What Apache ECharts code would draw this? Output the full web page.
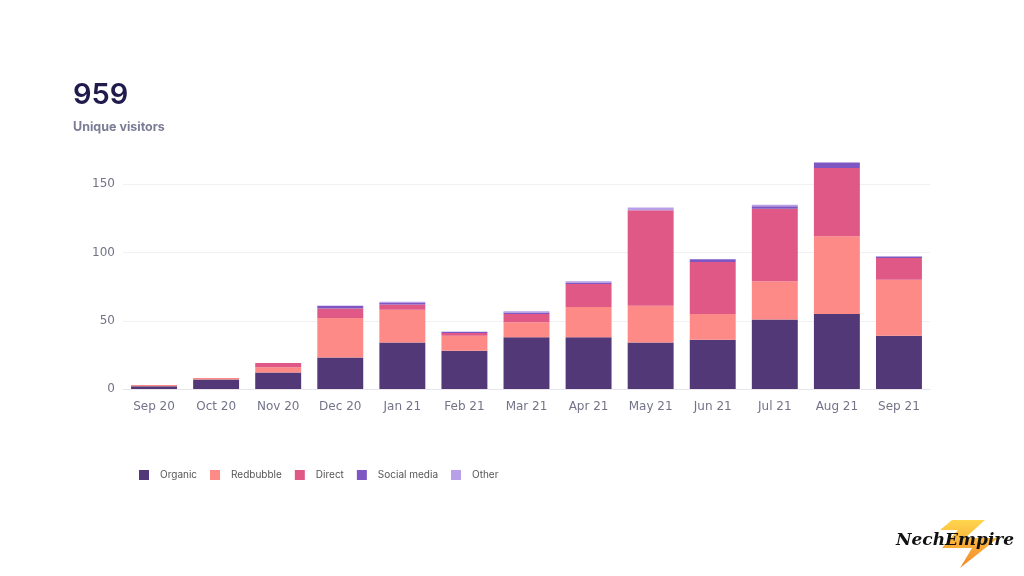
<!DOCTYPE html>
<html>
<head>
<meta charset="utf-8">
<script src="https://cdn.jsdelivr.net/npm/echarts@6/dist/echarts.min.js"></script>
<style>
html,body{margin:0;padding:0;background:#fff;}
#c{width:1024px;height:576px;}
</style>
</head>
<body>
<div id="c"></div>
<script>
const categories = ['Sep 20','Oct 20','Nov 20','Dec 20','Jan 21','Feb 21','Mar 21','Apr 21','May 21','Jun 21','Jul 21','Aug 21','Sep 21'];
const organic     = [2, 7, 12, 23, 34, 28, 38, 38, 34, 36, 51, 55, 39];
const redbubble   = [1, 1, 4, 29, 24, 11, 11, 22, 27, 19, 28, 57, 41];
const direct      = [0, 0, 3, 7, 4, 2, 6, 17, 70, 38, 53, 50, 16];
const socialMedia = [0, 0, 0, 2, 1, 1, 1, 1, 0, 2, 2, 4, 1];
const other       = [0, 0, 0, 0, 1, 0, 1, 1, 2, 0, 1, 0, 0];
const seriesNames = ['Organic','Redbubble','Direct','Social media','Other'];
const yTicks = [0, 50, 100, 150];
const totalLabel = '959';
const subtitle = 'Unique visitors';

const colors = ['#523876','#fd8a87','#e05886','#7e57c2','#b7a0e8'];
const values = [organic, redbubble, direct, socialMedia, other];

const chart = echarts.init(document.getElementById('c'));
chart.setOption({
  animation: false,
  color: colors,
  textStyle: {fontFamily: 'Inter, "Noto Sans", sans-serif'},
  grid: {left: 123, right: 94, top: 157, bottom: 187, containLabel: false},
  legend: {
    data: seriesNames,
    left: 134, top: 465,
    itemWidth: 10, itemHeight: 10, itemGap: 13,
    icon: 'rect',
    textStyle: {fontSize: 10, color: '#555', padding: [0,0,0,6], fontFamily: 'Inter, sans-serif'}
  },
  xAxis: {
    type: 'category',
    data: categories,
    axisLine: {lineStyle: {color: '#e6e6ec'}},
    axisTick: {show: false},
    axisLabel: {color: '#737389', fontSize: 12, margin: 12, fontFamily: '"DejaVu Sans", sans-serif'}
  },
  yAxis: {
    type: 'value',
    min: yTicks[0], max: 170, interval: 50,
    axisLine: {show: false},
    axisTick: {show: false},
    axisLabel: {color: '#737389', fontSize: 12, margin: 8, showMaxLabel: false, fontFamily: '"DejaVu Sans", sans-serif'},
    splitLine: {lineStyle: {color: '#f1f1f4'}, showMaxLine: false}
  },
  series: seriesNames.map((n, i) => ({
    name: n,
    type: 'bar',
    stack: 'total',
    barCategoryGap: '26%',
    data: values[i],
    itemStyle: {color: colors[i]}
  })),
  graphic: [
    {type: 'text', left: 73, top: 81, style: {text: totalLabel, fontSize: 29, fontWeight: 600, fill: '#1f1c4d', fontFamily: 'Inter, sans-serif'}},
    {type: 'text', left: 73, top: 121, style: {text: subtitle, fontSize: 12.5, fontWeight: 'bold', fill: '#7b7b96', fontFamily: 'Inter, sans-serif'}},
    {type: 'polygon', shape: {points: [[952,520],[985,520],[965,538],[998,538],[960,568],[972,548],[942,548],[958,530],[940,530]]},
      style: {fill: new echarts.graphic.LinearGradient(0,0,0,1,[{offset:0,color:'#ffd23a'},{offset:1,color:'#f47a10'}]), opacity: 0.9}},
    {type: 'text', left: 896, top: 532, style: {text: 'NechEmpire', fontSize: 17, fontStyle: 'italic', fontWeight: 'bold', fill: '#111', fontFamily: '"DejaVu Serif", serif'}}
  ]
});
</script>
</body>
</html>
